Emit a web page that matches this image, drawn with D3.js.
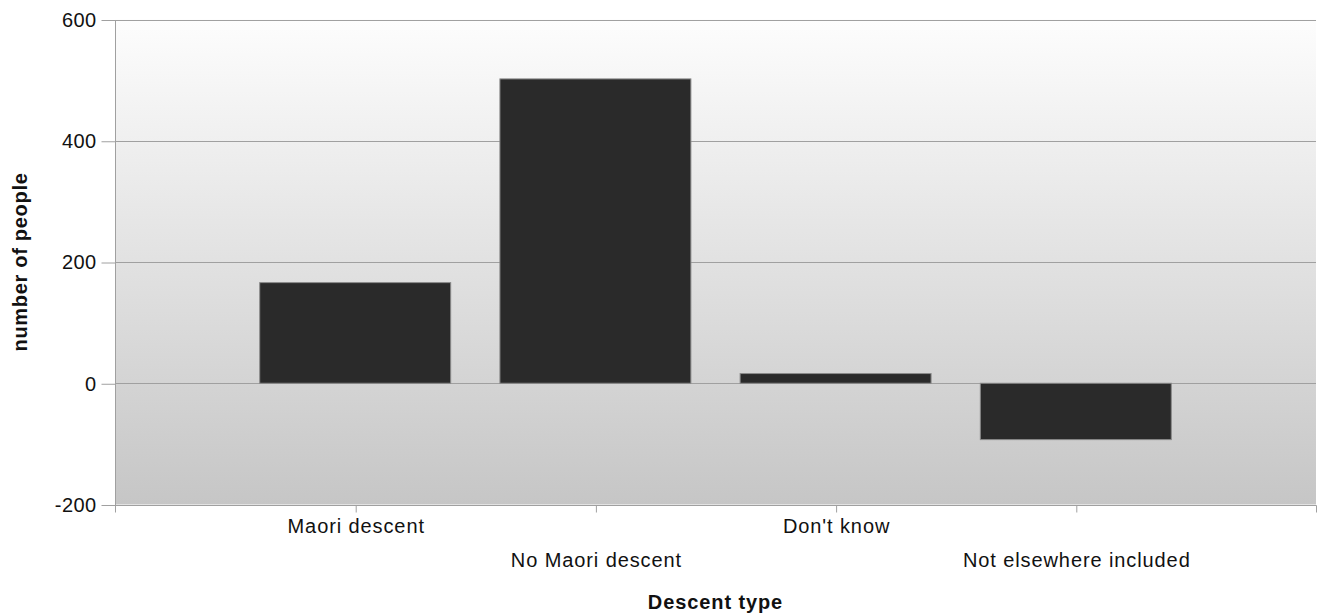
<!DOCTYPE html>
<html><head><meta charset="utf-8">
<script src="https://cdn.jsdelivr.net/npm/d3@7"></script>
<style>
html,body{margin:0;padding:0;background:#fff;}
text{font-family:"Liberation Sans",Arial,sans-serif;}
</style></head>
<body>
<svg id="chart" width="1326" height="615"></svg>
<script>
const categories = ["Maori descent","No Maori descent","Don't know","Not elsewhere included"];
const values = [166, 502, 16, -93];
const yTicks = [-200, 0, 200, 400, 600];
const xTitle = "Descent type";
const yTitle = "number of people";

const svg = d3.select("#chart");
const L = 115, R = 1316, T = 19.5, B = 504.5;

const x = d3.scalePoint().domain(categories).range([L, R]).padding(1);
const y = d3.scaleLinear().domain([-200, 600]).range([B, T]);
const bw = x.step() * 0.795;

const defs = svg.append("defs");
const grad = defs.append("linearGradient").attr("id","bg").attr("x1",0).attr("y1",0).attr("x2",0).attr("y2",1);
grad.append("stop").attr("offset","0%").attr("stop-color","#fdfdfd");
grad.append("stop").attr("offset","100%").attr("stop-color","#c6c6c6");

svg.append("rect").attr("x",L).attr("y",T).attr("width",R-L).attr("height",B-T).attr("fill","url(#bg)");

// gridlines
svg.append("g").selectAll("line").data(yTicks).join("line")
  .attr("x1",L).attr("x2",R).attr("y1",d=>Math.round(y(d))+0.5).attr("y2",d=>Math.round(y(d))+0.5)
  .attr("stroke","#a0a0a0").attr("stroke-width",1);

// bars
svg.append("g").selectAll("rect").data(categories).join("rect")
  .attr("x",(d)=>x(d)-bw/2)
  .attr("width",bw)
  .attr("y",(d,i)=>y(Math.max(0,values[i])))
  .attr("height",(d,i)=>Math.abs(y(values[i])-y(0)))
  .attr("fill","#2a2a2a").attr("stroke","#8a8a8a").attr("stroke-width",1);

// y axis
const yAxis = d3.axisLeft(y).tickValues(yTicks).tickSize(14).tickPadding(5).tickFormat(d => String(d));
const gy = svg.append("g").attr("transform",`translate(${L+0.5},0.5)`).call(yAxis);
gy.select(".domain").attr("stroke","#a0a0a0").attr("d",`M0,${T}V${B}`);
gy.selectAll(".tick line").attr("stroke","#a0a0a0");
gy.selectAll(".tick text").attr("font-size",20).attr("letter-spacing","0.4px").attr("fill","#111")
  .attr("font-family","Liberation Sans, Arial, sans-serif");

// x axis
const xAxis = d3.axisBottom(x).tickSize(7).tickPadding(6);
const gx = svg.append("g").attr("transform",`translate(0.5,${Math.round(B)+0.5})`).call(xAxis);
gx.select(".domain").attr("stroke","#a0a0a0").attr("d",`M${L},0H${R}`);
gx.selectAll(".tick line").attr("stroke","#a0a0a0");
gx.selectAll(".tick text").attr("font-size",20).attr("letter-spacing","0.9px").attr("fill","#111")
  .attr("font-family","Liberation Sans, Arial, sans-serif")
  .attr("dy",(d,i)=> i%2===0 ? "0.71em" : "2.42em");
// edge ticks
gx.append("g").selectAll("line").data(x.range()).join("line")
  .attr("x1",d=>d).attr("x2",d=>d).attr("y1",0).attr("y2",7).attr("stroke","#a0a0a0");

// titles
svg.append("text").attr("x",(L+R)/2).attr("y",609).attr("text-anchor","middle")
  .attr("font-size",20).attr("letter-spacing","0.9px").attr("font-weight","bold").attr("fill","#111").text(xTitle);
svg.append("text").attr("transform",`translate(27,${(T+B)/2}) rotate(-90)`).attr("text-anchor","middle")
  .attr("font-size",20).attr("letter-spacing","0.7px").attr("font-weight","bold").attr("fill","#111").text(yTitle);
</script>
</body></html>
